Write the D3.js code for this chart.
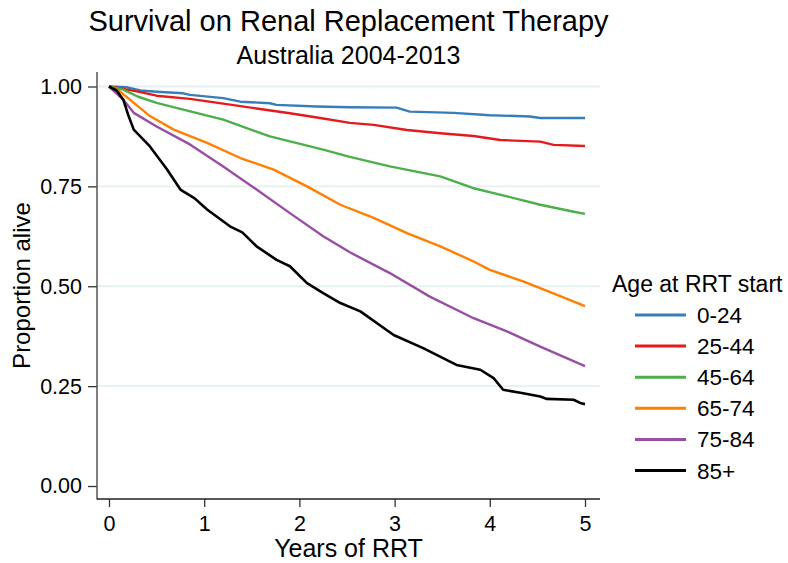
<!DOCTYPE html>
<html><head><meta charset="utf-8">
<script src="https://cdn.jsdelivr.net/npm/d3@7"></script>
<style>
html,body{margin:0;padding:0;background:#fff;}
text{font-family:"Liberation Sans",Arial,Helvetica,sans-serif;fill:#000;}
</style></head>
<body><svg id="c" width="788" height="563"></svg>
<script>
const title = "Survival on Renal Replacement Therapy";
const subtitle = "Australia 2004-2013";
const xLabel = "Years of RRT";
const yLabel = "Proportion alive";
const legendTitle = "Age at RRT start";
const groups = ["0-24","25-44","45-64","65-74","75-84","85+"];
const colors = ["#377eb8","#e41a1c","#4daf4a","#ff7f00","#984ea3","#000000"];
const xTicks = [0,1,2,3,4,5];
const yTicks = [0,0.25,0.5,0.75,1];

const t0_24 = [0,0.19,0.33,0.5,0.78,0.85,1.2,1.38,1.69,1.76,2.18,2.53,3.02,3.16,3.62,4.0,4.42,4.53,5.0];
const v0_24 = [1,0.998,0.99,0.987,0.983,0.979,0.971,0.962,0.958,0.954,0.95,0.948,0.947,0.937,0.934,0.928,0.925,0.921,0.921];
const t25_44 = [0,0.15,0.33,0.5,0.85,1.2,1.55,1.9,2.25,2.53,2.78,3.13,3.48,3.83,4.11,4.53,4.67,5.0];
const v25_44 = [1,0.994,0.986,0.977,0.969,0.957,0.945,0.933,0.92,0.909,0.904,0.891,0.883,0.876,0.866,0.862,0.854,0.851];
const t45_64 = [0,0.15,0.3,0.5,0.78,1.2,1.69,2.25,2.53,2.95,3.48,3.82,4.18,4.53,4.87,5.0];
const v45_64 = [1,0.992,0.975,0.959,0.942,0.917,0.875,0.842,0.824,0.80,0.775,0.746,0.725,0.704,0.687,0.681];
const t65_74 = [0,0.1,0.22,0.43,0.68,1.03,1.38,1.73,2.08,2.43,2.78,3.13,3.48,3.83,4.0,4.35,4.7,5.0];
const v65_74 = [1,0.99,0.967,0.926,0.892,0.859,0.821,0.792,0.75,0.704,0.671,0.633,0.60,0.562,0.541,0.512,0.479,0.45];
const t75_84 = [0,0.15,0.26,0.5,0.85,1.2,1.55,1.9,2.25,2.53,2.95,3.37,3.83,4.18,4.53,5.0];
const v75_84 = [1,0.967,0.934,0.90,0.855,0.80,0.742,0.683,0.625,0.585,0.533,0.474,0.42,0.387,0.349,0.30];
const t85 = [0,0.08,0.15,0.2,0.26,0.43,0.61,0.75,0.9,1.03,1.27,1.4,1.55,1.76,1.9,2.08,2.25,2.43,2.64,2.99,3.3,3.65,3.9,4.04,4.14,4.35,4.53,4.6,4.88,4.96,5.0];
const v85 = [1,0.99,0.967,0.93,0.892,0.85,0.792,0.742,0.72,0.692,0.65,0.635,0.60,0.566,0.55,0.508,0.483,0.458,0.437,0.378,0.345,0.303,0.291,0.27,0.241,0.232,0.224,0.218,0.216,0.207,0.205];

const times = [t0_24,t25_44,t45_64,t65_74,t75_84,t85];
const vals = [v0_24,v25_44,v45_64,v65_74,v75_84,v85];

const svg = d3.select("#c");
const plot = {left:97, right:600, top:72, bottom:499};
const x = d3.scaleLinear().domain([0,5]).range([109,585]);
const y = d3.scaleLinear().domain([0,1]).range([486,86.5]);

// gridlines
svg.append("g").selectAll("line").data(yTicks.filter(d=>d>0)).join("line")
  .attr("x1",plot.left).attr("x2",plot.right)
  .attr("y1",d=>y(d)).attr("y2",d=>y(d))
  .attr("stroke","#e6eff1").attr("stroke-width",1.8);

// axes
const yAxis = d3.axisLeft(y).tickValues(yTicks).tickFormat(d3.format(".2f")).tickSize(9).tickPadding(6);
const gy = svg.append("g").attr("transform",`translate(${plot.left},0)`).call(yAxis);
const xAxis = d3.axisBottom(x).tickValues(xTicks).tickFormat(d3.format("d")).tickSize(8).tickPadding(9);
const gx = svg.append("g").attr("transform",`translate(0,${plot.bottom})`).call(xAxis);
[gx,gy].forEach(g=>{
  g.select(".domain").remove();
  g.selectAll(".tick line").attr("stroke","#333").attr("stroke-width",1.3);
  g.selectAll(".tick text").attr("font-size",21.5).attr("font-family","Liberation Sans, Arial, sans-serif").attr("fill","#000");
});
svg.append("line").attr("x1",plot.left).attr("x2",plot.left).attr("y1",plot.top).attr("y2",plot.bottom+0.5)
  .attr("stroke","#555").attr("stroke-width",1.5);
svg.append("line").attr("x1",plot.left).attr("x2",plot.right).attr("y1",plot.bottom).attr("y2",plot.bottom)
  .attr("stroke","#222").attr("stroke-width",1.5);

// lines
const line = d3.line().x(d=>x(d[0])).y(d=>y(d[1])).curve(d3.curveLinear);
groups.forEach((g,i)=>{
  const data = times[i].map((t,j)=>[t,vals[i][j]]);
  svg.append("path").datum(data).attr("d",line)
    .attr("fill","none").attr("stroke",colors[i])
    .attr("stroke-width", i===5?2.6:2.4).attr("stroke-linejoin","round");
});

// titles
const cx = (plot.left+plot.right)/2;
svg.append("text").attr("x",cx).attr("y",31).attr("text-anchor","middle").attr("font-size",29).text(title);
svg.append("text").attr("x",cx).attr("y",64).attr("text-anchor","middle").attr("font-size",25).text(subtitle);
svg.append("text").attr("x",cx).attr("y",557).attr("text-anchor","middle").attr("font-size",25).text(xLabel);
svg.append("text").attr("transform",`translate(30,${(plot.top+plot.bottom)/2}) rotate(-90)`)
  .attr("text-anchor","middle").attr("font-size",24).text(yLabel);

// legend
svg.append("text").attr("x",612).attr("y",292).attr("font-size",23).text(legendTitle);
const lg = svg.append("g").selectAll("g").data(groups).join("g")
  .attr("transform",(d,i)=>`translate(0,${315+i*31.1})`);
lg.append("line").attr("x1",635).attr("x2",686).attr("y1",0).attr("y2",0)
  .attr("stroke",(d,i)=>colors[i]).attr("stroke-width",3);
lg.append("text").attr("x",697).attr("y",8).attr("font-size",22.5).text(d=>d);
</script></body></html>
